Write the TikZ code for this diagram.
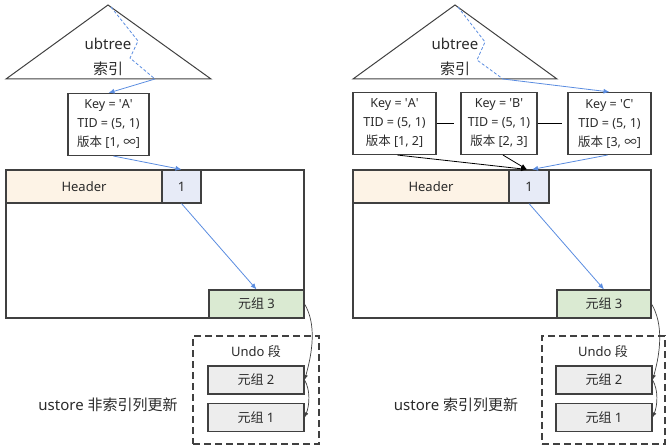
\documentclass[tikz,border=0pt]{standalone}
\usepackage{fontspec}
\setmainfont{Noto Sans}
\newfontfamily\cjk{Noto Sans CJK SC}
\usetikzlibrary{arrows.meta}

\definecolor{hdrfill}{HTML}{FDF3E6}
\definecolor{slotfill}{HTML}{E7EBF7}
\definecolor{newfill}{HTML}{DAEAD2}
\definecolor{oldfill}{HTML}{EDEDED}
\definecolor{ptrblue}{HTML}{5A8CE0}
\definecolor{linegray}{HTML}{404040}
\definecolor{textgray}{HTML}{2B2B2B}

\newcommand{\q}{\textquotesingle}

\begin{document}
\begin{tikzpicture}[x=1pt, y=-1pt,
        frame/.style={draw=linegray, line width=1.1pt},
        cell/.style={frame, inner sep=0pt, minimum height=33pt, text=textgray, font=\fontsize{13}{15}\selectfont},
        keybox/.style={frame, inner sep=0pt, minimum height=62pt, align=center, text=textgray, font=\fontsize{12.5}{19}\selectfont},
        tuple/.style={frame, inner sep=0pt, minimum width=96pt, minimum height=28pt, text=textgray, font=\fontsize{13}{15}\selectfont},
        undobox/.style={draw=linegray, line width=1.1pt, dash pattern=on 7pt off 4pt, inner sep=0pt},
        tri/.style={draw=linegray, line width=1pt},
        title/.style={text=textgray, font=\fontsize{15}{17}\selectfont},
        ptr/.style={draw=ptrblue, line width=0.8pt, -{Latex[length=6pt,width=5pt]}},
        ptrdash/.style={draw=ptrblue, line width=0.8pt, dash pattern=on 3pt off 2pt},
        link/.style={draw=black, line width=0.8pt, -{Latex[length=6pt,width=5pt]}},
        chain/.style={draw=linegray, line width=0.7pt, -{Latex[length=5pt,width=4pt]}},
    ]
        \useasboundingbox (0,0) rectangle (669,446);

        \coordinate (ltop) at (108,5);
        \coordinate (lbl) at (6,79);
        \coordinate (lbr) at (211,79);
        \draw[tri] (ltop) -- (lbl) -- (lbr) -- cycle;
        \node[title] (ltree) at (108,44) {ubtree};
        \node[title] (lidx) at (108,69) {\cjk 索引};

        \coordinate (la) at (111,7);
        \coordinate (lb) at (138,41);
        \coordinate (lc) at (130,58);
        \coordinate (ld) at (155,79);
        \draw[ptrdash] (la) -- (lb) -- (lc) -- (ld);

        \node[keybox, minimum width=81pt] (keyA) at (108.5,124.5) {Key = \q A\q\\TID = (5, 1)\\{\cjk 版本} [1, {\cjk ∞}]};

        \node[frame, minimum width=298pt, minimum height=148pt] (page) at (155,244) {};
        \node[cell, fill=hdrfill, minimum width=156pt] (hdr) at (84,186.5) {Header};
        \node[cell, fill=slotfill, minimum width=39pt] (lone) at (181.5,186.5) {1};
        \node[tuple, fill=newfill, minimum width=95pt] (tup3) at (256.5,304) {{\cjk 元组} 3};

        \node[undobox, minimum width=126pt, minimum height=108pt] (undo) at (256,390) {};
        \node[text=textgray, font=\fontsize{13}{15}\selectfont] (undolbl) at (256,352) {Undo {\cjk 段}};
        \node[tuple, fill=oldfill] (tup2) at (256,380) {{\cjk 元组} 2};
        \node[tuple, fill=oldfill] (tup1) at (256,417.5) {{\cjk 元组} 1};
        \node[title] (lcap) at (108,405) {ustore {\cjk 非索引列更新}};

        \draw[ptr] (ld) -- (keyA.north);
        \draw[ptr] ([xshift=5pt]keyA.south) -- (lone.north);
        \draw[ptr] (lone.south) -- (tup3.north);
        \draw[chain] (tup3.east) .. controls +(12,20) and +(8,-28) .. (tup2.east);
        \draw[chain] (tup2.east) .. controls +(6,10) and +(5,-12) .. (tup1.east);

        \coordinate (rtop) at (455,5);
        \coordinate (rbl) at (353,79);
        \coordinate (rbr) at (557,79);
        \draw[tri] (rtop) -- (rbl) -- (rbr) -- cycle;
        \node[title] (rtree) at (455,44) {ubtree};
        \node[title] (ridx) at (455,69) {\cjk 索引};

        \coordinate (ra) at (458,7);
        \coordinate (rb) at (485,42);
        \coordinate (rc) at (477,60);
        \coordinate (rd) at (503,79);
        \draw[ptrdash] (ra) -- (rb) -- (rc) -- (rd);

        \node[keybox, minimum width=83pt] (keyA2) at (394.5,123.5) {Key = \q A\q\\TID = (5, 1)\\{\cjk 版本} [1, 2]};
        \node[keybox, minimum width=76pt] (keyB) at (499,123.5) {Key = \q B\q\\TID = (5, 1)\\{\cjk 版本} [2, 3]};
        \node[keybox, minimum width=83pt] (keyC) at (609.5,123.5) {Key = \q C\q\\TID = (5, 1)\\{\cjk 版本} [3, {\cjk ∞}]};
        \draw[draw=black, line width=0.8pt, shorten >=6pt] (keyA2.east) -- (keyB.west);
        \draw[draw=black, line width=0.8pt, shorten >=5pt] (keyB.east) -- (keyC.west);

        \node[frame, minimum width=298pt, minimum height=148pt] (page2) at (502,244) {};
        \node[cell, fill=hdrfill, minimum width=156pt] (hdr2) at (431,186.5) {Header};
        \node[cell, fill=slotfill, minimum width=40pt] (lone2) at (529,186.5) {1};
        \node[tuple, fill=newfill, minimum width=94pt] (tup3b) at (604,304) {{\cjk 元组} 3};

        \node[undobox, minimum width=123pt, minimum height=108pt] (undo2) at (603.5,390) {};
        \node[text=textgray, font=\fontsize{13}{15}\selectfont] (undolbl2) at (603,352) {Undo {\cjk 段}};
        \node[tuple, fill=oldfill] (tup2b) at (604,380) {{\cjk 元组} 2};
        \node[tuple, fill=oldfill] (tup1b) at (604,417.5) {{\cjk 元组} 1};
        \node[title] (rcap) at (456,405) {ustore {\cjk 索引列更新}};

        \draw[ptr] (rd) -- (keyC.north);
        \draw[link] ([xshift=3pt]keyA2.south) -- ([xshift=-2pt]lone2.north);
        \draw[link] ([xshift=4pt]keyB.south) -- ([xshift=-2pt]lone2.north);
        \draw[ptr] ([xshift=-2pt]keyC.south) -- ([xshift=3pt]lone2.north);
        \draw[ptr] (lone2.south) -- (tup3b.north);
        \draw[chain] (tup3b.east) .. controls +(12,20) and +(8,-28) .. (tup2b.east);
        \draw[chain] (tup2b.east) .. controls +(6,10) and +(5,-12) .. (tup1b.east);
\end{tikzpicture}
\end{document}
